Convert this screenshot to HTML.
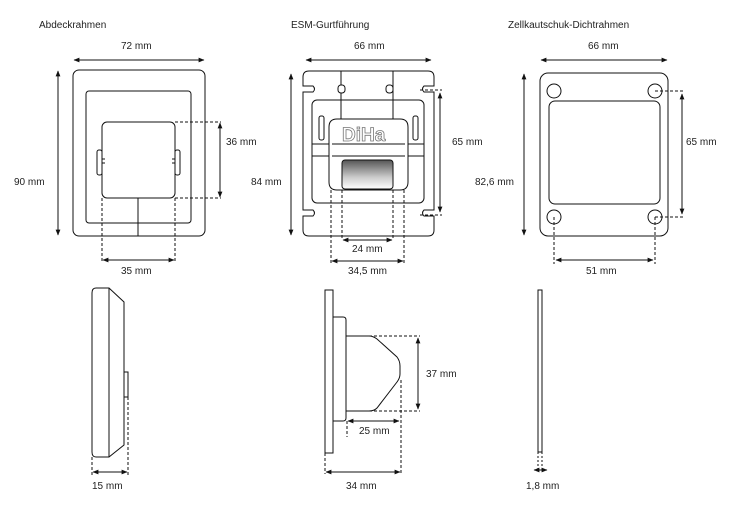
<!DOCTYPE html>
<html><head><meta charset="utf-8"><style>
html,body{margin:0;padding:0;background:#fff}
svg text{font-family:"Liberation Sans",sans-serif;font-size:10px;fill:#222}
</style></head><body>
<svg width="736" height="500" viewBox="0 0 736 500" xmlns="http://www.w3.org/2000/svg">
<defs>
<marker id="a" viewBox="0 0 10 10" refX="9" refY="5" markerWidth="6" markerHeight="6" orient="auto-start-reverse"><path d="M0,1 L10,5 L0,9 z" fill="#111"/></marker>
<linearGradient id="g" x1="0" y1="0" x2="0" y2="1"><stop offset="0" stop-color="#555"/><stop offset="0.6" stop-color="#ccc"/><stop offset="1" stop-color="#fff"/></linearGradient>
</defs>
<g fill="none" stroke="#111" stroke-width="1">
<rect x="73" y="70" width="132" height="166" rx="6"/>
<rect x="86" y="91" width="105" height="132" rx="3"/>
<rect x="102" y="122" width="73" height="76" rx="5" fill="#fff"/>
<rect x="97" y="150" width="5" height="25" rx="2"/>
<rect x="175" y="150" width="5" height="25" rx="2"/>
<path d="M102 159h3M102 163h3M175 159h-3M175 163h-3"/>
<line x1="138" y1="198" x2="138" y2="236"/>
<g stroke-dasharray="3,2"><path d="M175 122H221M175 198H221M102 198V262M175 198V262"/></g>
<line x1="220" y1="123" x2="220" y2="197" marker-start="url(#a)" marker-end="url(#a)"/>
<line x1="103" y1="260" x2="174" y2="260" marker-start="url(#a)" marker-end="url(#a)"/>
<line x1="74" y1="60" x2="204" y2="60" marker-start="url(#a)" marker-end="url(#a)"/>
<line x1="58" y1="71" x2="58" y2="235" marker-start="url(#a)" marker-end="url(#a)"/>

<path d="M309 71H428Q434 71 434 77V86H424Q421 89 424 92H434V210H424Q421 213 424 216H434V230Q434 236 428 236H309Q303 236 303 230V216H313Q316 213 313 210H303V92H313Q316 89 313 86H303V77Q303 71 309 71Z"/>
<rect x="312" y="100" width="112" height="103" rx="5"/>
<rect x="319" y="116" width="5" height="24" rx="2"/>
<rect x="413" y="116" width="5" height="24" rx="2"/>
<path d="M341 71V122M393 71V122"/>
<rect x="338" y="85" width="7" height="8" rx="3" fill="#fff"/>
<rect x="386" y="85" width="7" height="8" rx="3" fill="#fff"/>
<path d="M312 144H329M408 144H424M312 156H329M408 156H424"/>
<path d="M337 119H400Q408 119 408 127V182Q408 190 400 190H337Q329 190 329 182V127Q329 119 337 119Z" fill="#fff"/>
<path d="M332 144H405M332 156H405"/>
<rect x="342" y="160" width="51" height="29" rx="3" fill="url(#g)"/>
<g stroke-dasharray="3,2"><path d="M420 90H442M420 215H442M342 190V240M393 190V240M331 190V263M404 190V263"/></g>
<line x1="440" y1="93" x2="440" y2="212" marker-start="url(#a)" marker-end="url(#a)"/>
<line x1="343" y1="240" x2="392" y2="240" marker-start="url(#a)" marker-end="url(#a)"/>
<line x1="332" y1="261" x2="403" y2="261" marker-start="url(#a)" marker-end="url(#a)"/>
<line x1="306" y1="60" x2="431" y2="60" marker-start="url(#a)" marker-end="url(#a)"/>
<line x1="291" y1="74" x2="291" y2="235" marker-start="url(#a)" marker-end="url(#a)"/>

<rect x="540" y="73" width="128" height="163" rx="8"/>
<rect x="549" y="101" width="111" height="103" rx="6"/>
<circle cx="554" cy="91" r="7"/><circle cx="655" cy="91" r="7"/>
<circle cx="554" cy="217" r="7"/><circle cx="655" cy="217" r="7"/>
<g stroke-dasharray="3,2"><path d="M655 91H684M655 217H684M554 217V264M655 217V264"/></g>
<line x1="682" y1="94" x2="682" y2="214" marker-start="url(#a)" marker-end="url(#a)"/>
<line x1="556" y1="260" x2="653" y2="260" marker-start="url(#a)" marker-end="url(#a)"/>
<line x1="541" y1="60" x2="667" y2="60" marker-start="url(#a)" marker-end="url(#a)"/>
<line x1="524" y1="74" x2="524" y2="235" marker-start="url(#a)" marker-end="url(#a)"/>

<path d="M96 288H109L124 302V445L109 457H96Q92 457 92 452V293Q92 288 96 288Z"/>
<line x1="109" y1="288" x2="109" y2="457"/>
<rect x="124" y="372" width="4" height="25"/>
<g stroke-dasharray="3,2"><path d="M92 457V476M128 397V476"/></g>
<line x1="93" y1="472" x2="127" y2="472" marker-start="url(#a)" marker-end="url(#a)"/>

<rect x="325" y="290" width="8" height="163"/>
<path d="M333 317H343Q346 317 346 320V418Q346 421 343 421H333Z"/>
<path d="M346 336H369Q373 336 377 339L397 357Q400 361 400 366V374Q400 378 397 382L377 408Q374 411 369 411H346"/>
<g stroke-dasharray="3,2"><path d="M369 336H420M369 411H420M347 421V437M401 380V474M325 453V474"/></g>
<line x1="418" y1="338" x2="418" y2="409" marker-start="url(#a)" marker-end="url(#a)"/>
<line x1="348" y1="421" x2="399" y2="421" marker-start="url(#a)" marker-end="url(#a)"/>
<line x1="326" y1="472" x2="400" y2="472" marker-start="url(#a)" marker-end="url(#a)"/>

<rect x="538" y="290" width="4" height="162"/>
<g stroke-dasharray="2,2"><path d="M538 452V470M542 452V470"/></g>
<line x1="534" y1="470" x2="547" y2="470" marker-start="url(#a)" marker-end="url(#a)"/>
</g>
<text x="342" y="141" style="font-size:19px;fill:#fff;stroke:#777;stroke-width:0.8;font-weight:bold">DiHa</text>
<text x="39" y="28">Abdeckrahmen</text>
<text x="291" y="28">ESM-Gurtführung</text>
<text x="508" y="28">Zellkautschuk-Dichtrahmen</text>
<text x="121" y="49">72 mm</text>
<text x="354" y="49">66 mm</text>
<text x="588" y="49">66 mm</text>
<text x="14" y="185">90 mm</text>
<text x="251" y="185">84 mm</text>
<text x="475" y="185">82,6 mm</text>
<text x="226" y="145">36 mm</text>
<text x="452" y="145">65 mm</text>
<text x="686" y="145">65 mm</text>
<text x="121" y="274">35 mm</text>
<text x="352" y="252">24 mm</text>
<text x="348" y="274">34,5 mm</text>
<text x="586" y="274">51 mm</text>
<text x="92" y="489">15 mm</text>
<text x="426" y="377">37 mm</text>
<text x="359" y="434">25 mm</text>
<text x="346" y="489">34 mm</text>
<text x="526" y="489">1,8 mm</text>
</svg>
</body></html>
